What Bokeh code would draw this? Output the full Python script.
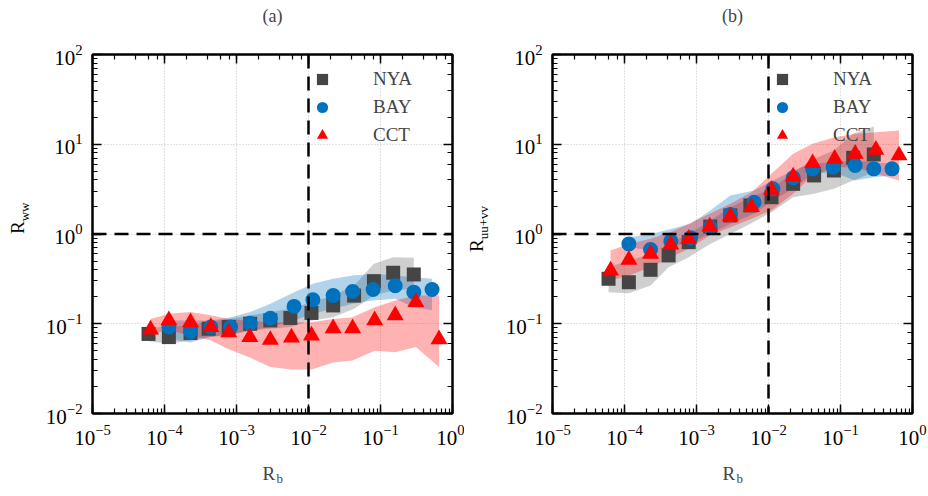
from bokeh.plotting import figure
from bokeh.models import (Range1d, LogAxis, Span, Label, CustomJSTickFormatter, Div)
from bokeh.layouts import row
from bokeh.embed import file_html
from bokeh.resources import INLINE

# ---------------- data ----------------
nya_x = [6.0e-5, 1.15e-4, 2.3e-4, 4.1e-4, 7.8e-4, 1.55e-3, 2.95e-3, 5.6e-3, 1.1e-2, 2.2e-2, 4.3e-2, 8.1e-2, 0.15, 0.29]
bay_x = [1.15e-4, 2.3e-4, 4.4e-4, 8.3e-4, 1.55e-3, 2.95e-3, 6.3e-3, 1.15e-2, 2.2e-2, 4.1e-2, 7.9e-2, 0.16, 0.29, 0.52]
cct_x = [6.4e-5, 1.15e-4, 2.3e-4, 4.4e-4, 7.8e-4, 1.53e-3, 2.95e-3, 5.8e-3, 1.1e-2, 2.2e-2, 4.1e-2, 8.3e-2, 0.16, 0.31, 0.65]

# panel (a): R_ww
nya_a = [0.077, 0.071, 0.079, 0.088, 0.092, 0.100, 0.109, 0.116, 0.132, 0.160, 0.206, 0.298, 0.370, 0.354]
nya_a_lo = [0.064, 0.060, 0.065, 0.071, 0.074, 0.084, 0.088, 0.092, 0.109, 0.118, 0.147, 0.206, 0.235, 0.245]
nya_a_hi = [0.090, 0.093, 0.096, 0.104, 0.113, 0.124, 0.135, 0.147, 0.174, 0.206, 0.267, 0.466, 0.552, 0.543]
bay_a = [0.092, 0.082, 0.092, 0.092, 0.101, 0.115, 0.156, 0.185, 0.206, 0.229, 0.241, 0.265, 0.225, 0.241]
bay_a_lo = [0.068, 0.062, 0.071, 0.077, 0.084, 0.092, 0.109, 0.129, 0.147, 0.167, 0.182, 0.190, 0.153, 0.141]
bay_a_hi = [0.109, 0.109, 0.109, 0.118, 0.135, 0.167, 0.225, 0.279, 0.317, 0.345, 0.360, 0.345, 0.330, 0.317]
cct_a = [0.086, 0.109, 0.104, 0.092, 0.080, 0.071, 0.066, 0.070, 0.074, 0.089, 0.089, 0.109, 0.124, 0.174, 0.067]
cct_a_lo = [0.077, 0.084, 0.074, 0.065, 0.052, 0.042, 0.033, 0.031, 0.031, 0.037, 0.039, 0.050, 0.048, 0.055, 0.033]
cct_a_hi = [0.113, 0.129, 0.135, 0.124, 0.113, 0.109, 0.104, 0.104, 0.104, 0.113, 0.118, 0.153, 0.182, 0.206, 0.206]

# panel (b): R_uu+vv
nya_b = [0.317, 0.290, 0.399, 0.577, 0.811, 1.21, 1.61, 2.08, 2.57, 3.62, 4.49, 5.10, 7.06, 7.70]
nya_b_lo = [0.225, 0.219, 0.267, 0.427, 0.552, 0.776, 1.00, 1.30, 1.75, 2.57, 2.80, 3.19, 3.94, 4.89]
nya_b_hi = [0.427, 0.507, 0.601, 0.776, 1.00, 1.41, 1.99, 2.57, 3.19, 4.89, 6.88, 8.51, 13.1, 15.8]
bay_b = [0.776, 0.671, 0.832, 0.906, 1.19, 1.65, 2.26, 3.19, 4.23, 5.32, 5.56, 5.80, 5.32, 5.32]
bay_b_lo = [0.713, 0.655, 0.713, 0.811, 1.00, 1.30, 1.68, 2.36, 3.19, 4.68, 4.89, 3.94, 4.30, 4.49]
bay_b_hi = [0.922, 1.00, 1.14, 1.30, 1.83, 2.68, 3.05, 3.94, 5.10, 6.05, 6.31, 6.59, 6.31, 6.05]
cct_b = [0.392, 0.515, 0.601, 0.764, 0.883, 1.21, 1.57, 1.99, 3.10, 4.37, 6.15, 6.88, 7.82, 8.67, 7.50]
cct_b_lo = [0.303, 0.345, 0.427, 0.552, 0.683, 0.962, 1.19, 1.48, 1.83, 2.80, 4.49, 5.56, 5.56, 4.68, 3.94]
cct_b_hi = [0.655, 0.776, 0.883, 1.05, 1.30, 1.68, 2.17, 2.92, 4.68, 7.82, 10.1, 12.0, 13.1, 13.6, 14.2]

series_names = ["NYA", "BAY", "CCT"]
panel_titles = ["(a)", "(b)"]
y_label_subs = ["ww", "uu+vv"]
x_range_vals = (1e-5, 1.0)
y_range_vals = (1e-2, 1e2)
threshold_x = 1e-2
threshold_y = 1.0

SERIF = "Liberation Serif"
GRAY, BLUE, RED = "#454545", "#0072BD", "#FF0000"


def ylabel_div(main, sub, left_px, bottom_px):
    html = ('<div style="position:relative;width:30px;height:496px;">'
            f'<div style="position:absolute;left:{left_px}px;top:{bottom_px}px;'
            'transform:rotate(-90deg);transform-origin:0 0;'
            "font-family:'Liberation Serif';font-size:19px;line-height:22px;"
            f'white-space:nowrap;color:black;">{main}'
            f'<sub style="font-size:13px;">{sub}</sub></div></div>')
    return Div(text=html, width=30, height=496, margin=0)


def make_panel(title, data, left, right):
    p = figure(width=434, height=496, x_axis_type="log", y_axis_type="log",
               x_range=Range1d(*x_range_vals), y_range=Range1d(*y_range_vals),
               output_backend="svg", toolbar_location=None, title=None,
               min_border_left=left, min_border_right=right,
               min_border_top=54, min_border_bottom=83)
    p.outline_line_color = "black"
    p.outline_line_width = 2
    p.background_fill_color = "white"

    for g in (p.xgrid[0], p.ygrid[0]):
        g.grid_line_color = "#c4c4c4"
        g.grid_line_dash = "1 2"
        g.grid_line_width = 1

    (nx, ny, nlo, nhi), (bx, by, blo, bhi), (cx, cy, clo, chi) = data
    p.varea(x=nx, y1=nlo, y2=nhi, fill_color="#808080", fill_alpha=0.38, level="overlay")
    p.varea(x=bx, y1=blo, y2=bhi, fill_color=BLUE, fill_alpha=0.3, level="overlay")
    p.varea(x=cx, y1=clo, y2=chi, fill_color=RED, fill_alpha=0.3, level="overlay")

    p.scatter(nx, ny, marker="square", size=14, fill_color=GRAY, line_color=None,
              legend_label=series_names[0], level="overlay")
    p.scatter(bx, by, marker="circle", size=15, fill_color=BLUE, line_color=None,
              legend_label=series_names[1], level="overlay")
    p.scatter(cx, cy, marker="triangle", size=17, fill_color=RED, line_color=None,
              legend_label=series_names[2], level="overlay")

    for loc, dim in ((threshold_x, "height"), (threshold_y, "width")):
        p.add_layout(Span(location=loc, dimension=dim, line_color="black", line_width=2.5,
                          line_dash="14 8", level="overlay"))

    # axes
    for ax in (p.xaxis[0], p.yaxis[0]):
        ax.major_label_text_font = SERIF
        ax.major_label_text_font_size = "21px"
        ax.major_label_text_color = "black"
    p.xaxis.major_label_standoff = 11
    p.yaxis.major_label_standoff = 10
    p.add_layout(LogAxis(formatter=CustomJSTickFormatter(code="return ''"),
                         major_label_standoff=0), "above")
    p.add_layout(LogAxis(formatter=CustomJSTickFormatter(code="return ''"),
                         major_label_standoff=0), "right")
    for ax in p.axis:
        ax.axis_line_width = 2
        ax.axis_line_color = "black"
        ax.major_tick_in = 9
        ax.major_tick_out = 0
        ax.minor_tick_in = 5
        ax.minor_tick_out = 0
        ax.major_tick_line_width = 1.5
        ax.minor_tick_line_width = 1.2
        ax.major_tick_line_color = "black"
        ax.minor_tick_line_color = "black"

    # legend
    lg = p.legend[0]
    lg.location = "top_right"
    lg.background_fill_alpha = 0.0
    lg.border_line_color = None
    lg.label_text_font = SERIF
    lg.label_text_font_size = "19px"
    lg.glyph_height = 28
    lg.glyph_width = 28
    lg.spacing = 0
    lg.padding = 11
    lg.margin = 11
    lg.label_standoff = 37
    lg.label_width = 68

    lab = dict(text_font=SERIF, text_align="left", text_baseline="middle")
    # panel title (in the space above the plot)
    p.add_layout(Label(x=180, y=39, x_units="screen", y_units="screen", text=title,
                       text_font_size="18px", text_font=SERIF, text_align="center",
                       text_baseline="middle"), "above")
    # x axis label R_b
    p.add_layout(Label(x=170, y=-5, x_units="screen", y_units="screen", text="R",
                       text_font_size="19px", **lab), "below")
    p.add_layout(Label(x=184, y=5, x_units="screen", y_units="screen", text="b",
                       text_font_size="13px", **lab), "below")
    return p


pa = make_panel(panel_titles[0],
                [(nya_x, nya_a, nya_a_lo, nya_a_hi), (bay_x, bay_a, bay_a_lo, bay_a_hi),
                 (cct_x, cct_a, cct_a_lo, cct_a_hi)], 62, 12)
pb = make_panel(panel_titles[1],
                [(nya_x, nya_b, nya_b_lo, nya_b_hi), (bay_x, bay_b, bay_b_lo, bay_b_hi),
                 (cct_x, cct_b, cct_b_lo, cct_b_hi)], 58, 16)

da = ylabel_div("R", y_label_subs[0], 7, 234)
db = ylabel_div("R", y_label_subs[1], 2, 252)

layout = row(da, pa, db, pb, spacing=0)
open("out.html", "w").write(file_html(layout, INLINE))
